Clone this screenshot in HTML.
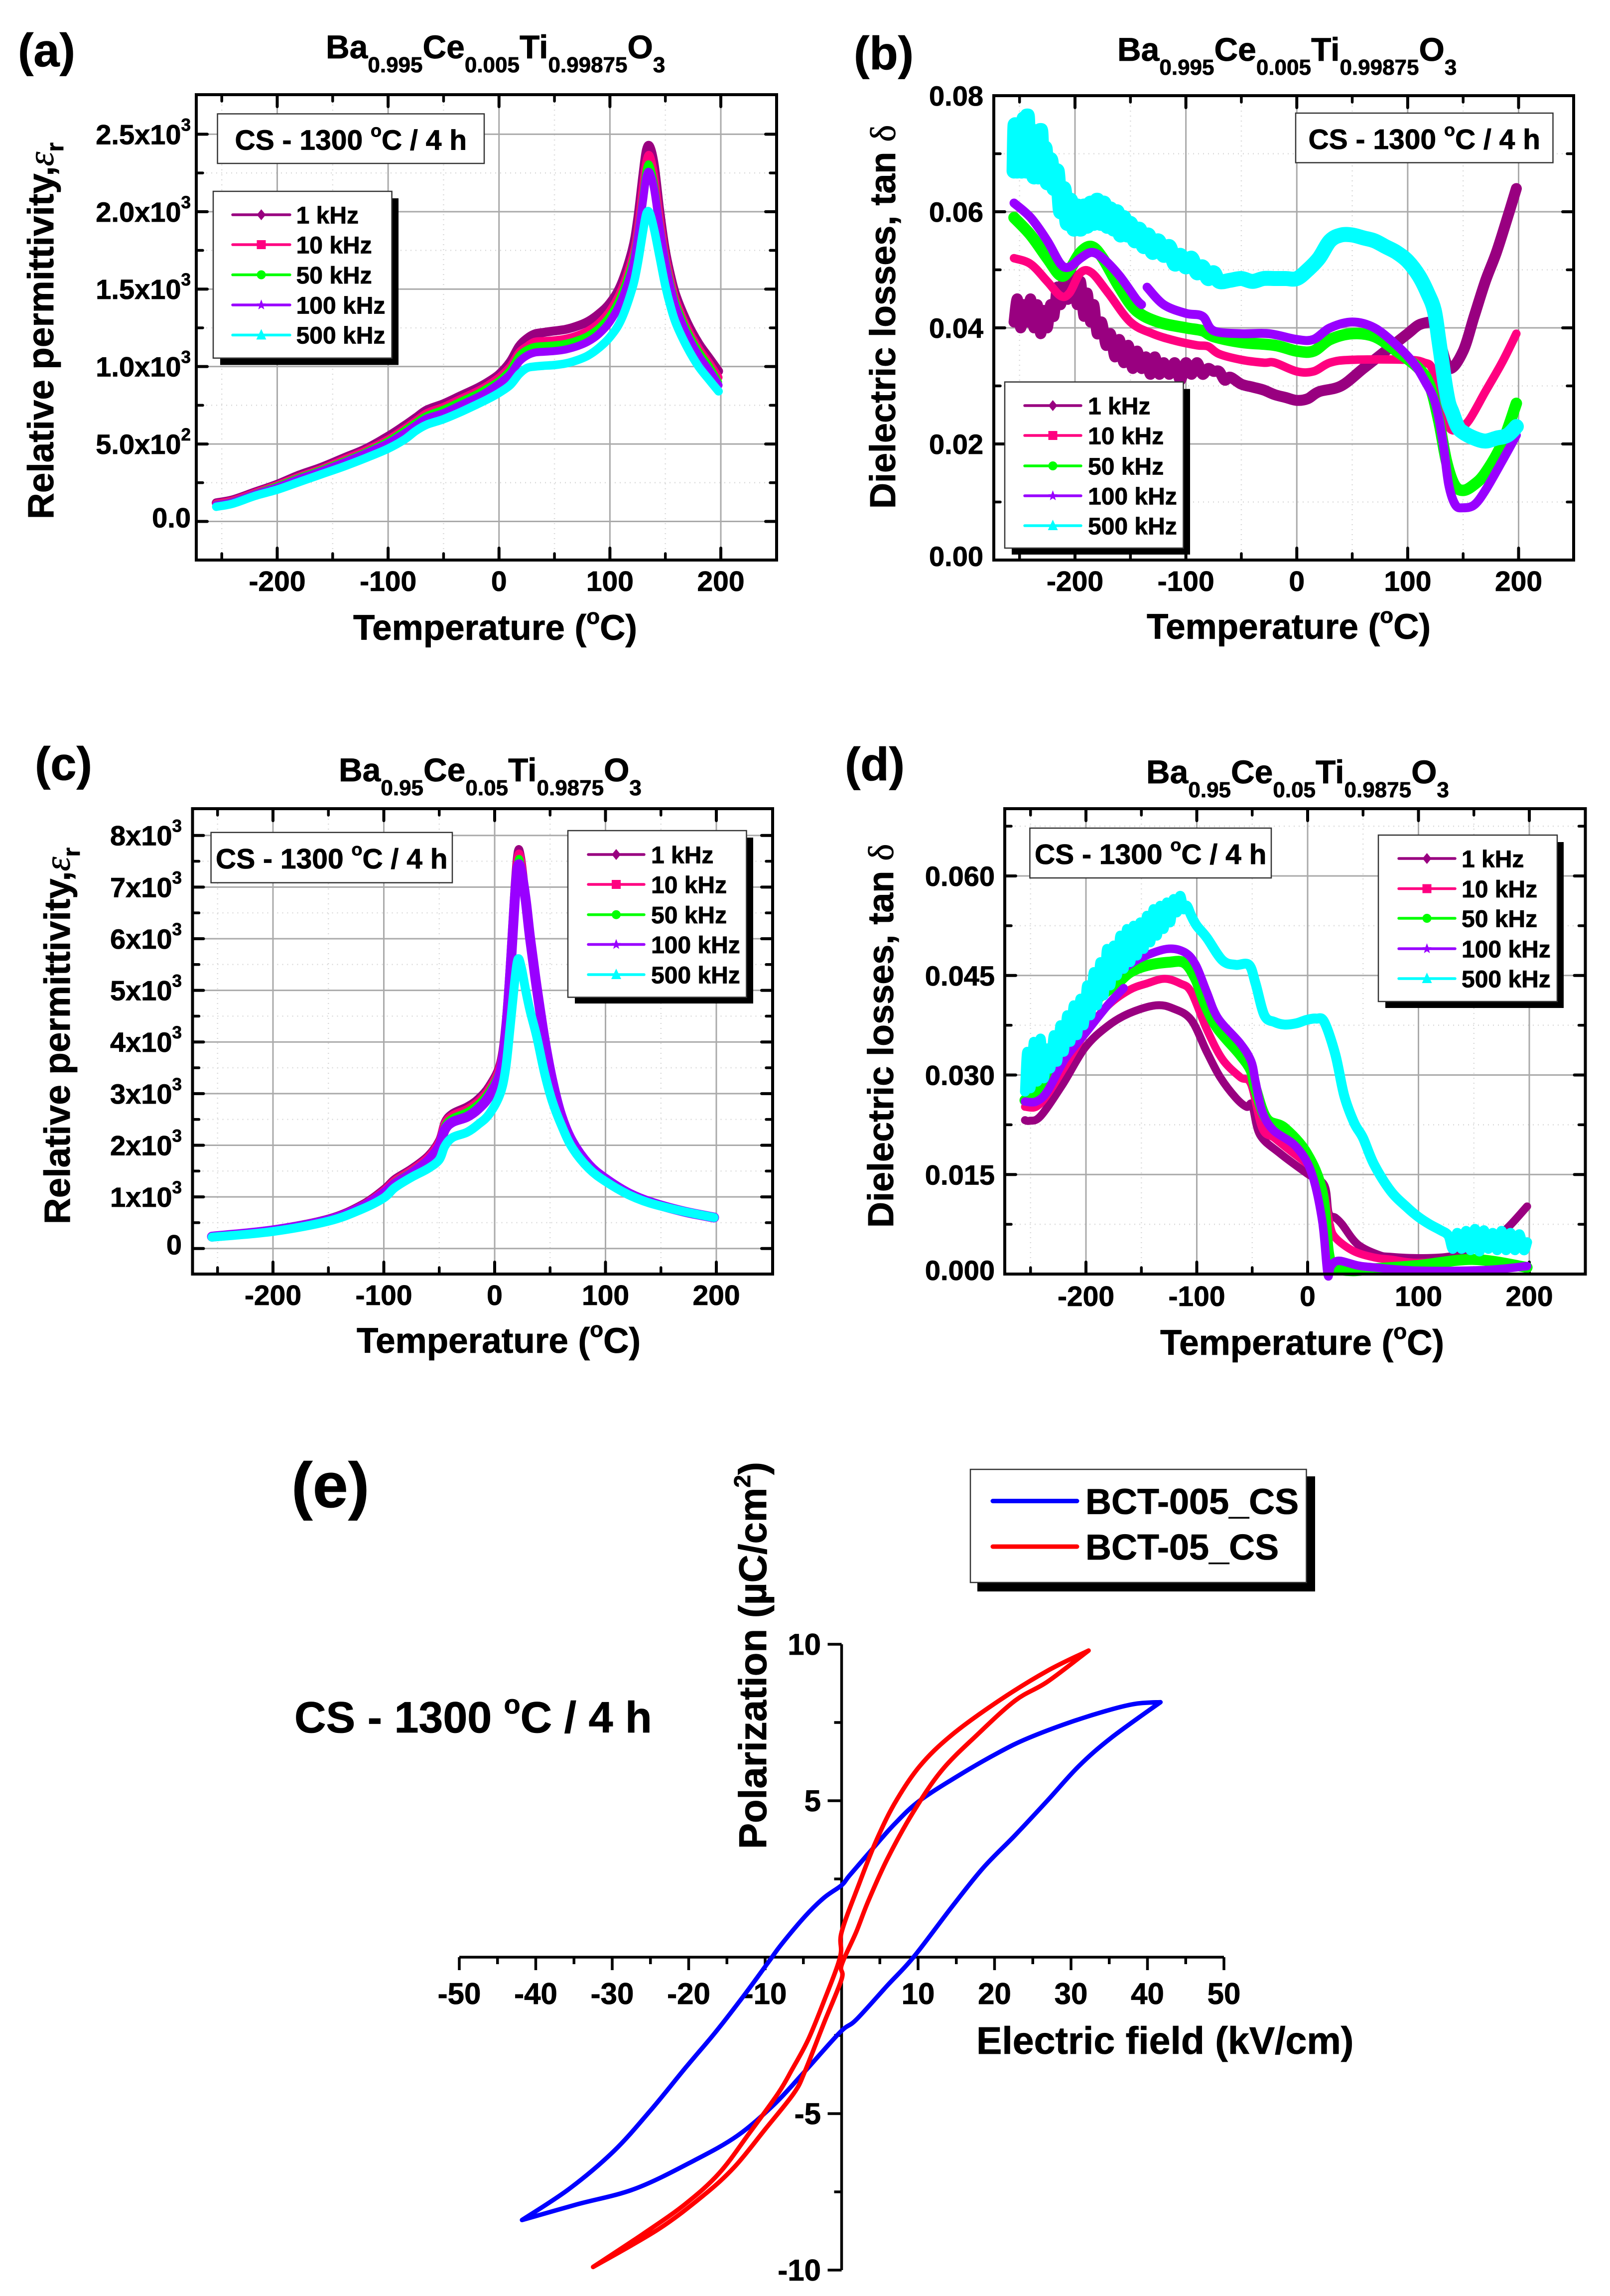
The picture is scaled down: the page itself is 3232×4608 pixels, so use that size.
<!DOCTYPE html>
<html lang="en">
<head>
<meta charset="utf-8">
<title>Dielectric and ferroelectric properties of BCT ceramics</title>
<style>
html,body{margin:0;padding:0;background:#fff}
svg{display:block}
text{font-family:"Liberation Sans",sans-serif;font-weight:bold;fill:#000;stroke:#000;stroke-width:.8}
.gk{font-family:"Liberation Serif","DejaVu Serif",serif;font-weight:normal}
</style>
</head>
<body>
<svg id="fig" xmlns="http://www.w3.org/2000/svg" width="3232" height="4608" viewBox="0 0 3232 4608">
<rect width="3232" height="4608" fill="#fff"/>
<g id="panels"></g>
<g id="labels">
<text x="36" y="133" font-size="94">(a)</text>
<text x="1714" y="139" font-size="94">(b)</text>
<text x="70" y="1565" font-size="94">(c)</text>
<text x="1696" y="1566" font-size="94">(d)</text>
<text x="585" y="3025" font-size="128">(e)</text>

<text x="654" y="117" font-size="66">Ba<tspan font-size="44" dy="28">0.995</tspan><tspan dy="-28">Ce</tspan><tspan font-size="44" dy="28">0.005</tspan><tspan dy="-28">Ti</tspan><tspan font-size="44" dy="28">0.99875</tspan><tspan dy="-28">O</tspan><tspan font-size="44" dy="28">3</tspan></text>
<text x="2243" y="122" font-size="66">Ba<tspan font-size="44" dy="28">0.995</tspan><tspan dy="-28">Ce</tspan><tspan font-size="44" dy="28">0.005</tspan><tspan dy="-28">Ti</tspan><tspan font-size="44" dy="28">0.99875</tspan><tspan dy="-28">O</tspan><tspan font-size="44" dy="28">3</tspan></text>
<text x="680" y="1568" font-size="66">Ba<tspan font-size="44" dy="28">0.95</tspan><tspan dy="-28">Ce</tspan><tspan font-size="44" dy="28">0.05</tspan><tspan dy="-28">Ti</tspan><tspan font-size="44" dy="28">0.9875</tspan><tspan dy="-28">O</tspan><tspan font-size="44" dy="28">3</tspan></text>
<text x="2301" y="1572" font-size="66">Ba<tspan font-size="44" dy="28">0.95</tspan><tspan dy="-28">Ce</tspan><tspan font-size="44" dy="28">0.05</tspan><tspan dy="-28">Ti</tspan><tspan font-size="44" dy="28">0.9875</tspan><tspan dy="-28">O</tspan><tspan font-size="44" dy="28">3</tspan></text>

<text x="709" y="1284" font-size="71">Temperature (<tspan font-size="44" dy="-32">o</tspan><tspan dy="32">C)</tspan></text>
<text x="2302" y="1282" font-size="71">Temperature (<tspan font-size="44" dy="-32">o</tspan><tspan dy="32">C)</tspan></text>
<text x="716" y="2715" font-size="71">Temperature (<tspan font-size="44" dy="-32">o</tspan><tspan dy="32">C)</tspan></text>
<text x="2329" y="2719" font-size="71">Temperature (<tspan font-size="44" dy="-32">o</tspan><tspan dy="32">C)</tspan></text>

<text transform="translate(107,1042) rotate(-90)" font-size="73">Relative permittivity,<tspan class="gk" font-style="italic">ε</tspan><tspan font-size="48" dy="20">r</tspan></text>
<text transform="translate(1797,1021) rotate(-90)" font-size="72">Dielectric losses, tan <tspan class="gk">δ</tspan></text>
<text transform="translate(140,2457) rotate(-90)" font-size="73">Relative permittivity,<tspan class="gk" font-style="italic">ε</tspan><tspan font-size="48" dy="20">r</tspan></text>
<text transform="translate(1793,2464) rotate(-90)" font-size="72">Dielectric losses, tan <tspan class="gk">δ</tspan></text>

<text x="1960" y="4122" font-size="77">Electric field (kV/cm)</text>
<text transform="translate(1538,3711) rotate(-90)" font-size="78">Polarization (µC/cm<tspan font-size="46" dy="-32">2</tspan><tspan dy="32">)</tspan></text>
<text x="591" y="3477" font-size="88">CS - 1300 <tspan font-size="54" dy="-38">o</tspan><tspan dy="38">C / 4 h</tspan></text>
</g>
</svg>
<script>
/* ---------- shared axis data ---------- */
const tempMajor = [-200,-100,0,100,200];
const tempMajorLabels = ['-200','-100','0','100','200'];
const tempMinor = [-250,-150,-50,50,150];
const freqNames = ['1 kHz','10 kHz','50 kHz','100 kHz','500 kHz'];

/* ---------- panel (a) ---------- */
const aTemps = [-255,-240,-220,-200,-180,-160,-140,-120,-100,-85,-75,-65,-50,-35,-20,-10,0,10,18,25,32,40,50,60,70,80,90,100,110,120,125,130,133,136,140,145,150,155,160,170,180,190,198];
const a1k = [.12,.14,.19,.24,.30,.35,.41,.47,.55,.62,.67,.72,.76,.81,.86,.90,.95,1.03,1.13,1.18,1.21,1.22,1.23,1.24,1.26,1.29,1.34,1.41,1.53,1.75,1.95,2.25,2.40,2.42,2.3,2.0,1.75,1.58,1.45,1.28,1.15,1.05,.97];
const a10k = [.115,.135,.185,.235,.29,.34,.40,.46,.53,.60,.65,.70,.74,.79,.84,.88,.93,1.0,1.09,1.13,1.16,1.165,1.17,1.18,1.20,1.23,1.28,1.36,1.49,1.70,1.88,2.18,2.33,2.36,2.23,1.95,1.72,1.55,1.42,1.25,1.12,1.02,.93];
const a50k = [.11,.13,.18,.23,.285,.335,.39,.45,.52,.59,.64,.685,.725,.775,.825,.865,.91,.98,1.07,1.11,1.13,1.135,1.14,1.15,1.17,1.2,1.25,1.33,1.46,1.67,1.85,2.12,2.28,2.3,2.18,1.92,1.7,1.53,1.4,1.23,1.1,1.0,.9];
const a100k = [.105,.125,.175,.22,.275,.325,.38,.44,.505,.57,.62,.665,.70,.75,.80,.84,.89,.95,1.03,1.07,1.09,1.095,1.10,1.11,1.13,1.16,1.21,1.29,1.42,1.63,1.82,2.08,2.23,2.25,2.14,1.89,1.67,1.5,1.37,1.2,1.07,.97,.88];
const a500k = [.095,.115,.165,.205,.255,.305,.355,.41,.47,.53,.585,.625,.66,.705,.755,.79,.83,.88,.95,.99,1.0,1.005,1.01,1.02,1.04,1.07,1.12,1.19,1.3,1.5,1.66,1.88,1.99,1.99,1.88,1.7,1.52,1.38,1.27,1.12,1.0,.91,.84];
const aYTicks = [0,.5,1,1.5,2,2.5];
const aYLabels = ['0.0','5.0x10','1.0x10','1.5x10','2.0x10','2.5x10'];
const aYSups = ['','2','3','3','3','3'];
const aYMinor = [.25,.75,1.25,1.75,2.25];

/* ---------- panel (b) ---------- */
const b1kT = [-255,-252,-249,-246,-243,-240,-237,-234,-231,-228,-225,-222,-219,-216,-213,-210,-207,-204,-201,-198,-195,-192,-189,-186,-183,-180,-176,-172,-168,-164,-160,-156,-152,-148,-144,-140,-136,-132,-128,-124,-120,-115,-110,-105,-100,-95,-90,-85,-80,-75,-70,-65,-60,-50,-40,-30,-20,-10,0,10,20,40,60,80,100,110,120,125,130,138,150,160,170,180,190,198];
const b1kV = [.041,.045,.040,.044,.041,.045,.040,.044,.039,.043,.040,.044,.042,.047,.044,.048,.045,.046,.049,.044,.048,.042,.046,.041,.044,.039,.041,.037,.039,.035,.038,.034,.037,.033,.036,.033,.035,.032,.035,.032,.034,.032,.034,.031,.034,.032,.034,.032,.033,.0325,.0325,.031,.0315,.0303,.0298,.0293,.0285,.028,.0275,.0278,.029,.030,.033,.036,.039,.0405,.041,.041,.037,.033,.036,.042,.048,.053,.059,.064];
const b10kT = [-255,-240,-225,-213,-205,-195,-185,-170,-150,-130,-110,-90,-80,-70,-50,-30,-20,0,15,30,50,100,115,122,130,137,145,155,170,185,198];
const b10kV = [.052,.051,.048,.0455,.046,.0495,.0495,.046,.041,.039,.0378,.037,.0368,.0355,.0345,.034,.034,.0325,.0325,.034,.0345,.0345,.034,.033,.028,.023,.0225,.024,.029,.034,.039];
const b50kT = [-255,-240,-225,-213,-205,-195,-185,-175,-160,-145,-125,-100,-85,-75,-50,-20,0,15,30,50,70,90,110,120,128,135,142,150,160,170,185,198];
const b50kV = [.059,.056,.052,.049,.050,.053,.054,.052,.047,.043,.041,.04,.0395,.0385,.0375,.037,.036,.036,.038,.039,.0385,.036,.033,.03,.024,.017,.013,.012,.013,.015,.020,.027];
const b100kT = [-255,-240,-225,-213,-205,-195,-185,-175,-160,-145,-140,-138,-135,-120,-100,-85,-75,-50,-25,0,15,30,50,70,90,105,115,125,132,137,143,150,160,170,185,198];
const b100kV = [.0615,.059,.055,.051,.0505,.052,.053,.052,.049,.045,.044,null,.047,.044,.0425,.042,.0395,.039,.039,.038,.038,.040,.041,.040,.037,.034,.031,.027,.02,.013,.0095,.009,.0095,.012,.017,.0215];
const b500kT = [-255,-254,-252,-250,-248,-246,-244,-243,-241,-239,-237,-235,-233,-231,-229,-227,-225,-222,-219,-216,-213,-210,-207,-204,-201,-198,-195,-192,-189,-186,-183,-180,-177,-174,-171,-168,-165,-162,-159,-156,-153,-150,-146,-142,-138,-134,-130,-125,-120,-115,-110,-105,-100,-95,-90,-85,-80,-75,-70,-60,-50,-40,-30,-20,-10,0,10,20,30,40,50,60,70,80,90,100,110,118,124,128,131,134,137,140,145,150,160,170,180,190,198];
const b500kV = [.067,.075,.067,.075,.067,.076,.067,.0765,.067,.074,.066,.073,.066,.074,.066,.071,.065,.069,.064,.067,.060,.064,.058,.062,.057,.061,.057,.061,.0575,.0615,.058,.062,.058,.0615,.0575,.0605,.057,.060,.056,.059,.056,.058,.055,.057,.054,.056,.053,.055,.0525,.054,.051,.0525,.0505,.052,.0495,.0505,.0485,.0495,.048,.0482,.0485,.048,.0485,.0485,.0485,.0485,.050,.052,.055,.056,.056,.0555,.055,.054,.053,.0515,.049,.046,.043,.038,.034,.03,.027,.0255,.023,.022,.021,.0205,.021,.0215,.023];
const bYTicks = [0,.02,.04,.06,.08];
const bYLabels = ['0.00','0.02','0.04','0.06','0.08'];
const bYSups = ['','','','',''];
const bYMinor = [.01,.03,.05,.07];

/* ---------- panel (c) ---------- */
const cTemps = [-255,-200,-150,-120,-100,-90,-75,-60,-50,-45,-38,-25,-15,-5,5,10,14,18,21,24,28,32,38,45,52,60,70,85,100,120,140,170,198];
const c1k = [.24,.37,.58,.85,1.15,1.35,1.55,1.8,2.1,2.45,2.62,2.75,2.9,3.15,3.6,4.4,5.6,7.0,7.7,7.55,6.8,6.0,5.0,4.0,3.2,2.55,2.05,1.6,1.35,1.08,.9,.72,.6];
const c10k = [.24,.36,.57,.83,1.12,1.32,1.52,1.77,2.07,2.42,2.58,2.7,2.85,3.1,3.55,4.3,5.5,6.9,7.6,7.5,6.75,5.95,4.97,3.98,3.18,2.53,2.04,1.6,1.35,1.08,.9,.72,.6];
const c50k = [.235,.355,.56,.82,1.1,1.29,1.49,1.74,2.03,2.38,2.53,2.65,2.8,3.05,3.5,4.25,5.4,6.8,7.5,7.42,6.72,5.92,4.95,3.97,3.17,2.52,2.03,1.6,1.35,1.08,.9,.72,.6];
const c100k = [.23,.35,.55,.8,1.07,1.25,1.45,1.7,1.98,2.3,2.45,2.55,2.7,2.95,3.4,4.15,5.3,6.7,7.4,7.3,6.75,6.0,5.05,4.05,3.25,2.58,2.07,1.62,1.35,1.08,.9,.72,.6];
const c500k = [.22,.33,.53,.76,.98,1.18,1.38,1.55,1.72,1.98,2.15,2.25,2.4,2.6,3.0,3.5,4.3,5.15,5.6,5.45,5.0,4.6,4.1,3.4,2.85,2.4,1.95,1.55,1.3,1.05,.88,.72,.6];
const cYTicks = [0,1,2,3,4,5,6,7,8];
const cYLabels = ['0','1x10','2x10','3x10','4x10','5x10','6x10','7x10','8x10'];
const cYSups = ['','3','3','3','3','3','3','3','3'];
const cYMinor = [.5,1.5,2.5,3.5,4.5,5.5,6.5,7.5];

/* ---------- panel (d) ---------- */
const d1kT = [-255,-251,-241,-221,-201,-181,-161,-137,-121,-105,-91,-79,-65,-55,-50,-43,-25,0,15,19,25,31,45,64,75,100,126,140,160,178,198];
const d1kV = [.0232,.0231,.0238,.0286,.0341,.0373,.0393,.0405,.04,.0383,.0335,.0297,.0266,.0252,.0255,.021,.0182,.0151,.0134,.0092,.0085,.0075,.0045,.0029,.0026,.0024,.0026,.0033,.0048,.0066,.0102];
const d10kT = [-255,-245,-235,-220,-200,-180,-161,-145,-129,-115,-105,-91,-77,-61,-51,-41,-30,-15,0,10,15,20,25,41,60,75,100,150,198];
const d10kV = [.0252,.0252,.027,.031,.0365,.0405,.0428,.0438,.0445,.0438,.0425,.0369,.0324,.0297,.0286,.022,.0205,.0185,.0165,.0145,.012,.0075,.0055,.0035,.0025,.0022,.0017,.002,.001];
const d50kT = [-255,-240,-225,-205,-192,-172,-160,-145,-125,-111,-101,-92,-81,-61,-51,-47,-37,-21,-1,13,19,25,40,60,100,150,198];
const d50kV = [.0262,.028,.032,.038,.0411,.0438,.0455,.0465,.047,.0469,.0445,.0405,.037,.0331,.0307,.028,.0234,.022,.0182,.0124,.003,.001,.0005,.0008,.0013,.0022,.001];
const d100kT = [-255,-245,-235,-219,-201,-181,-166,-168,-169,-151,-127,-111,-101,-91,-81,-61,-51,-47,-41,-31,-11,3,13,18,21,28,45,60,100,160,198];
const d100kV = [.026,.026,.0275,.0324,.0362,.0404,.0431,null,.0457,.0476,.049,.0485,.0466,.0425,.0386,.0348,.0321,.029,.0245,.0217,.0193,.0155,.0082,0,.0012,.002,.0013,.001,.0005,.0006,.0012];
const d500kT = [-255,-253,-250,-247,-244,-241,-238,-235,-232,-229,-226,-223,-220,-217,-214,-211,-208,-205,-202,-199,-196,-193,-190,-187,-184,-181,-178,-175,-172,-169,-166,-163,-160,-157,-154,-151,-148,-145,-142,-139,-136,-133,-130,-127,-124,-121,-118,-115,-112,-109,-105,-100,-91,-77,-65,-53,-47,-39,-30,-21,-10,-1,8,15,25,33,42,50,60,75,90,100,110,120,127,131,135,139,143,147,151,155,159,163,167,171,175,179,183,187,191,195,198];
const d500kV = [.0275,.0335,.028,.035,.029,.0355,.0295,.034,.031,.036,.032,.0375,.0335,.039,.035,.0405,.036,.0415,.0375,.0435,.039,.0455,.0405,.047,.042,.049,.0435,.0495,.045,.051,.046,.052,.047,.0525,.048,.053,.049,.054,.05,.055,.051,.0555,.052,.056,.053,.0565,.0545,.057,.055,.0555,.054,.0525,.0507,.0473,.0466,.0466,.0438,.039,.038,.0376,.0378,.0383,.0385,.038,.0331,.0269,.0228,.0205,.0165,.0125,.01,.0086,.0075,.0066,.0058,.0038,.0062,.0038,.0065,.0036,.0068,.0034,.0066,.0038,.0062,.0036,.0065,.0036,.0062,.0036,.006,.0036,.0048];
const dYTicks = [0,.015,.03,.045,.06];
const dYLabels = ['0.000','0.015','0.030','0.045','0.060'];
const dYSups = ['','','','',''];
const dYMinor = [.0075,.0225,.0375,.0525,.0675];

/* ---------- panel (e) ---------- */
const eXTicks = [-50,-40,-30,-20,-10,10,20,30,40,50];
const eXLabels = ['-50','-40','-30','-20','-10','10','20','30','40','50'];
const eXMinor = [-45,-35,-25,-15,-5,0,5,15,25,35,45];
const eYTicks = [-10,-5,5,10];
const eYLabels = ['-10','-5','5','10'];
const eYMinor = [-7.5,-2.5,2.5,7.5];
const blueUpField = [41.7,38.5,35,29.8,24.4,20.6,15.6,10.2,6.9,4,1,0,-2.3,-4.8,-7.9,-9.4,-12.7,-16.5,-20.3,-25,-29.8,-35.6,-41.8];
const blueUpPol = [8.15,8.1,7.9,7.5,7.0,6.55,5.85,5.0,4.25,3.45,2.6,2.3,1.9,1.3,.4,-.1,-1.2,-2.4,-3.5,-4.9,-6.2,-7.4,-8.4];
const blueLowField = [-41.8,-34.6,-27,-19.3,-13.6,-8.8,-5,-.2,1.9,6,9.4,14.4,18.5,22.7,26.9,31,35.2,41.7];
const blueLowPol = [-8.4,-7.9,-7.4,-6.5,-5.7,-4.7,-3.7,-2.4,-2,-.9,0,1.6,2.85,3.9,5,6.1,7,8.15];
const redUpField = [32.3,26.9,20.6,14.4,10.2,6.9,4.4,2.3,0,-.2,-2.3,-4.4,-6.5,-8.3,-12,-16,-20.5,-26,-32.5];
const redUpPol = [9.8,9.15,8.2,7.1,6.1,4.9,3.65,2.35,.8,0,-1.4,-2.65,-3.6,-4.35,-5.6,-6.9,-7.9,-8.85,-9.9];
const redLowField = [-32.5,-24,-18,-14,-10,-6.25,-4.8,-2.3,0,0,1.9,3.5,6,9.4,13.1,17.7,22.7,26.9,32.3];
const redLowPol = [-9.9,-8.7,-7.6,-6.7,-5.5,-4.35,-3.65,-2.1,-.7,-.25,.8,1.8,3.15,4.65,5.97,7.1,8.2,8.8,9.8];
const loopNames = ['BCT-005_CS','BCT-05_CS'];

/* ---------- colours ---------- */
const freqColors = ['#990080','#ff0080','#00ff00','#9900ff','#00ffff'];
const freqMarks = ['diamond','square','circle','star','triangle'];

/* ---------- helpers ---------- */
const NS = 'http://www.w3.org/2000/svg';
const root = document.getElementById('panels');
function mk(tag, parent, name, attrs, interact) {
  const el = document.createElementNS(NS, tag);
  
  
  for (const k in attrs) el.setAttribute(k, attrs[k]);
  parent.appendChild(el);
  return el;
}
function linear(d0, d1, r0, r1) {
  return v => r0 + (v - d0) * (r1 - r0) / (d1 - d0);
}
function smoothPath(xs, ys, sx, sy) {
  let runs = [], cur = [];
  const n = Math.min(xs.length, ys.length);
  for (let i = 0; i < n; i++) {
    if (ys[i] === null) { if (cur.length) runs.push(cur); cur = []; }
    else cur.push([sx(xs[i]), sy(ys[i])]);
  }
  if (cur.length) runs.push(cur);
  let d = '';
  runs.forEach(p => {
    d += 'M' + p[0][0].toFixed(1) + ' ' + p[0][1].toFixed(1);
    for (let i = 0; i < p.length - 1; i++) {
      const a = p[Math.max(i - 1, 0)], b = p[i], c = p[i + 1], e = p[Math.min(i + 2, p.length - 1)];
      const c1x = b[0] + (c[0] - a[0]) / 6, c1y = b[1] + (c[1] - a[1]) / 6;
      const c2x = c[0] - (e[0] - b[0]) / 6, c2y = c[1] - (e[1] - b[1]) / 6;
      d += 'C' + c1x.toFixed(1) + ' ' + c1y.toFixed(1) + ' ' + c2x.toFixed(1) + ' ' + c2y.toFixed(1) + ' ' + c[0].toFixed(1) + ' ' + c[1].toFixed(1);
    }
  });
  return d;
}
function label(parent, name, x, y, str, size, anchor, sup) {
  const t = mk('text', parent, name, {x: x, y: y, 'font-size': size, 'text-anchor': anchor});
  t.appendChild(document.createTextNode(str));
  if (sup) {
    const s = document.createElementNS(NS, 'tspan');
    s.setAttribute('font-size', Math.round(size * 0.62));
    s.setAttribute('dy', -Math.round(size * 0.48));
    s.textContent = sup;
    t.appendChild(s);
  }
  return t;
}
function marker(g, kind, x, y, color) {
  const r = 9;
  const nm = 'legend-marker';
  if (kind === 'circle') { mk('circle', g, nm, {cx: x, cy: y, r: r, fill: color}); return; }
  if (kind === 'square') { mk('rect', g, nm, {x: x - r, y: y - r, width: 2 * r, height: 2 * r, fill: color}); return; }
  let pts;
  if (kind === 'diamond') pts = [[0,-r-2],[r,0],[0,r+2],[-r,0]];
  if (kind === 'triangle') pts = [[0,-r-3],[r+1,r],[-r-1,r]];
  if (kind === 'star') pts = [[0,-r-2],[3,-3],[r,-3],[4,2],[6,r],[0,5],[-6,r],[-4,2],[-r,-3],[-3,-3]];
  mk('polygon', g, nm, {points: pts.map(q => (x + q[0]) + ',' + (y + q[1])).join(' '), fill: color});
}
function drawLegend(g, L, T, R, B, sr, sb, rows, lx0, lx1, tx, names, colors, marks, size, sw) {
  mk('rect', g, 'legend-shadow', {x: L + 14, y: T + 14, width: sr - L - 14, height: sb - T - 14, fill: '#000'});
  mk('rect', g, 'legend-box', {x: L, y: T, width: R - L, height: B - T, fill: '#fff', stroke: '#333', 'stroke-width': 2.5});
  names.forEach((n, i) => {
    mk('line', g, 'legend-line', {x1: lx0, x2: lx1, y1: rows[i], y2: rows[i], stroke: colors[i], 'stroke-width': sw, 'stroke-linecap': 'round'});
    if (marks) marker(g, marks[i], (lx0 + lx1) / 2, rows[i], colors[i]);
    label(g, 'legend-entry', tx, rows[i] + size * 0.36, n, size, 'start');
  });
}
function csBox(g, L, T, R, B) {
  mk('rect', g, 'process-box', {x: L, y: T, width: R - L, height: B - T, fill: '#fff', stroke: '#333', 'stroke-width': 2.5});
  const t = mk('text', g, 'process-label', {x: (L + R) / 2, y: (T + B) / 2 + 22, 'font-size': 57, 'text-anchor': 'middle'});
  t.appendChild(document.createTextNode('CS - 1300 '));
  const s = document.createElementNS(NS, 'tspan');
  s.setAttribute('font-size', 36);
  s.setAttribute('dy', -26);
  s.textContent = 'o';
  t.appendChild(s);
  const s2 = document.createElementNS(NS, 'tspan');
  s2.setAttribute('dy', 26);
  s2.textContent = 'C / 4 h';
  t.appendChild(s2);
}
function tempPanel(c) {
  const g = mk('g', root, 'panel-' + c.id, {});
  const sx = linear(-200, 200, c.x200m, c.x200p);
  const sy = linear(c.yA, c.yB, c.pA, c.pB);
  // grid
  c.yMinor.forEach(v => mk('line', g, 'y-minor-grid', {x1: c.L, x2: c.R, y1: sy(v), y2: sy(v), stroke: '#d8d8d8', 'stroke-width': 2.5, 'stroke-dasharray': '2 8'}));
  tempMinor.forEach(v => mk('line', g, 'x-minor-grid', {x1: sx(v), x2: sx(v), y1: c.T, y2: c.B, stroke: '#d8d8d8', 'stroke-width': 2.5, 'stroke-dasharray': '2 8'}));
  c.yTicks.forEach(v => mk('line', g, 'y-grid-line', {x1: c.L, x2: c.R, y1: sy(v), y2: sy(v), stroke: '#aaa', 'stroke-width': 3}));
  tempMajor.forEach(v => mk('line', g, 'x-grid-line', {x1: sx(v), x2: sx(v), y1: c.T, y2: c.B, stroke: '#aaa', 'stroke-width': 3}));
  // ticks
  tempMajor.forEach((v, i) => {
    mk('line', g, 'x-tick-bottom', {x1: sx(v), x2: sx(v), y1: c.B, y2: c.B - 24, stroke: '#000', 'stroke-width': 6, 'stroke-linecap': 'round'});
    mk('line', g, 'x-tick-top', {x1: sx(v), x2: sx(v), y1: c.T, y2: c.T + 24, stroke: '#000', 'stroke-width': 6, 'stroke-linecap': 'round'});
    label(g, 'x-tick-label', sx(v), c.xLabY, tempMajorLabels[i], 57, 'middle');
  });
  tempMinor.forEach(v => {
    mk('line', g, 'x-minor-tick-bottom', {x1: sx(v), x2: sx(v), y1: c.B, y2: c.B - 13, stroke: '#000', 'stroke-width': 5.5, 'stroke-linecap': 'round'});
    mk('line', g, 'x-minor-tick-top', {x1: sx(v), x2: sx(v), y1: c.T, y2: c.T + 13, stroke: '#000', 'stroke-width': 5.5, 'stroke-linecap': 'round'});
  });
  c.yTicks.forEach((v, i) => {
    mk('line', g, 'y-tick-left', {x1: c.L, x2: c.L + 22, y1: sy(v), y2: sy(v), stroke: '#000', 'stroke-width': 6, 'stroke-linecap': 'round'});
    mk('line', g, 'y-tick-right', {x1: c.R, x2: c.R - 22, y1: sy(v), y2: sy(v), stroke: '#000', 'stroke-width': 6, 'stroke-linecap': 'round'});
    label(g, 'y-tick-label', c.yLabR, sy(v) + c.yLabDy - (v === 0 ? 8 : 0), c.yLabels[i], 56, 'end', c.ySups[i]);
  });
  c.yMinor.forEach(v => {
    mk('line', g, 'y-minor-tick-left', {x1: c.L, x2: c.L + 13, y1: sy(v), y2: sy(v), stroke: '#000', 'stroke-width': 5.5, 'stroke-linecap': 'round'});
    mk('line', g, 'y-minor-tick-right', {x1: c.R, x2: c.R - 13, y1: sy(v), y2: sy(v), stroke: '#000', 'stroke-width': 5.5, 'stroke-linecap': 'round'});
  });
  // series
  c.series.forEach((s, i) => {
    mk('path', g, 'series-' + freqNames[i].replace(' ', '-').toLowerCase(), {d: smoothPath(s[0], s[1], sx, sy), fill: 'none', stroke: freqColors[i], 'stroke-width': c.sw[i], 'stroke-linejoin': 'round', 'stroke-linecap': 'round'});
  });
  // frame
  mk('rect', g, 'plot-frame', {x: c.L, y: c.T, width: c.R - c.L, height: c.B - c.T, fill: 'none', stroke: '#000', 'stroke-width': 6});
  csBox(g, c.cs[0], c.cs[1], c.cs[2], c.cs[3]);
  const l = c.leg;
  drawLegend(g, l[0], l[1], l[2], l[3], l[4], l[5], c.rows, c.lx[0], c.lx[1], c.lx[2], freqNames, freqColors, freqMarks, 48, 5.5);
}

/* ---------- panels ---------- */
tempPanel({id:'a', L:394,R:1559,T:190,B:1124, x200m:556.5,x200p:1447, yA:0,yB:2.5,pA:1046.5,pB:269.4,
  yTicks:aYTicks,yLabels:aYLabels,ySups:aYSups,yMinor:aYMinor, xLabY:1186,yLabR:383,yLabDy:20,
  sw:[18,16,14,16,17],
  series:[[aTemps,a1k],[aTemps,a10k],[aTemps,a50k],[aTemps,a100k],[aTemps,a500k]],
  cs:[436.6,228.5,972,328], leg:[428,384,786.6,718.7,800,732.5], rows:[431,491,551.5,612,672.4], lx:[467,582,594.6]});
tempPanel({id:'b', L:1995,R:3159,T:192,B:1124, x200m:2158,x200p:3048.5, yA:0,yB:.08,pA:1124,pB:192,
  yTicks:bYTicks,yLabels:bYLabels,ySups:bYSups,yMinor:bYMinor, xLabY:1186,yLabR:1974,yLabDy:20,
  sw:[22,17,23,18,30],
  series:[[b1kT,b1kV],[b10kT,b10kV],[b50kT,b50kV],[b100kT,b100kV],[b500kT,b500kV]],
  cs:[2601,227,3117.5,326.5], leg:[2017,766.6,2375.5,1100,2389,1113], rows:[814,874,935,995,1055], lx:[2057,2170,2184]});
tempPanel({id:'c', L:386.5,R:1551,T:1623,B:2557, x200m:548,x200p:1438, yA:0,yB:8,pA:2505.7,pB:1676.7,
  yTicks:cYTicks,yLabels:cYLabels,ySups:cYSups,yMinor:cYMinor, xLabY:2619,yLabR:365,yLabDy:20,
  sw:[16,16,14,20,18],
  series:[[cTemps,c1k],[cTemps,c10k],[cTemps,c50k],[cTemps,c100k],[cTemps,c500k]],
  cs:[423.6,1670.7,908,1771.6], leg:[1140,1667,1498.5,2001.5,1512,2014], rows:[1715,1775,1835.7,1895.5,1956], lx:[1181,1293,1307]});
tempPanel({id:'d', L:2017,R:3182.5,T:1623,B:2557, x200m:2180,x200p:3070, yA:0,yB:.06,pA:2557,pB:1758,
  yTicks:dYTicks,yLabels:dYLabels,ySups:dYSups,yMinor:dYMinor, xLabY:2621,yLabR:1997,yLabDy:20,
  sw:[16,16,22,17,20],
  series:[[d1kT,d1kV],[d10kT,d10kV],[d50kT,d50kV],[d100kT,d100kV],[d500kT,d500kV]],
  cs:[2067.4,1662,2552,1762], leg:[2767,1676,3126,2010,3139,2023], rows:[1723,1783.5,1843,1904,1964], lx:[2808,2921,2934]});

/* ---------- panel e ---------- */
(function () {
  const g = mk('g', root, 'panel-e', {});
  const sx = linear(-50, 50, 922, 2457);
  const sy = linear(-10, 10, 4556, 3300);
  const y0 = sy(0), x0 = sx(0);
  mk('line', g, 'x-axis', {x1: sx(-50), x2: sx(50), y1: y0, y2: y0, stroke: '#000', 'stroke-width': 5.5});
  mk('line', g, 'y-axis', {x1: x0, x2: x0, y1: sy(10), y2: sy(-10), stroke: '#000', 'stroke-width': 5.5});
  eXTicks.forEach((v, i) => {
    mk('line', g, 'x-tick', {x1: sx(v), x2: sx(v), y1: y0, y2: y0 + 26, stroke: '#000', 'stroke-width': 5.5});
    label(g, 'x-tick-label', sx(v), 4022, eXLabels[i], 60, 'middle');
  });
  eXMinor.forEach(v => mk('line', g, 'x-minor-tick', {x1: sx(v), x2: sx(v), y1: y0, y2: y0 + 14, stroke: '#000', 'stroke-width': 5.5}));
  eYTicks.forEach((v, i) => {
    mk('line', g, 'y-tick', {x1: x0, x2: x0 - 28, y1: sy(v), y2: sy(v), stroke: '#000', 'stroke-width': 5.5});
    label(g, 'y-tick-label', 1648, sy(v) + 21, eYLabels[i], 60, 'end');
  });
  eYMinor.forEach(v => mk('line', g, 'y-minor-tick', {x1: x0, x2: x0 - 15, y1: sy(v), y2: sy(v), stroke: '#000', 'stroke-width': 5.5}));
  const blueD = smoothPath(blueUpField, blueUpPol, sx, sy) + smoothPath(blueLowField, blueLowPol, sx, sy);
  const redD = smoothPath(redUpField, redUpPol, sx, sy) + smoothPath(redLowField, redLowPol, sx, sy);
  mk('path', g, 'loop-bct-005', {d: blueD, fill: 'none', stroke: '#0000ff', 'stroke-width': 9, 'stroke-linejoin': 'round', 'stroke-linecap': 'round'});
  mk('path', g, 'loop-bct-05', {d: redD, fill: 'none', stroke: '#ff0000', 'stroke-width': 9, 'stroke-linejoin': 'round', 'stroke-linecap': 'round'});
  drawLegend(g, 1948, 2949, 2622.5, 3176, 2640, 3194, [3012.5, 3104], 1993, 2162, 2179, loopNames, ['#0000ff', '#ff0000'], null, 72, 9);
})();
</script>
</body>
</html>
